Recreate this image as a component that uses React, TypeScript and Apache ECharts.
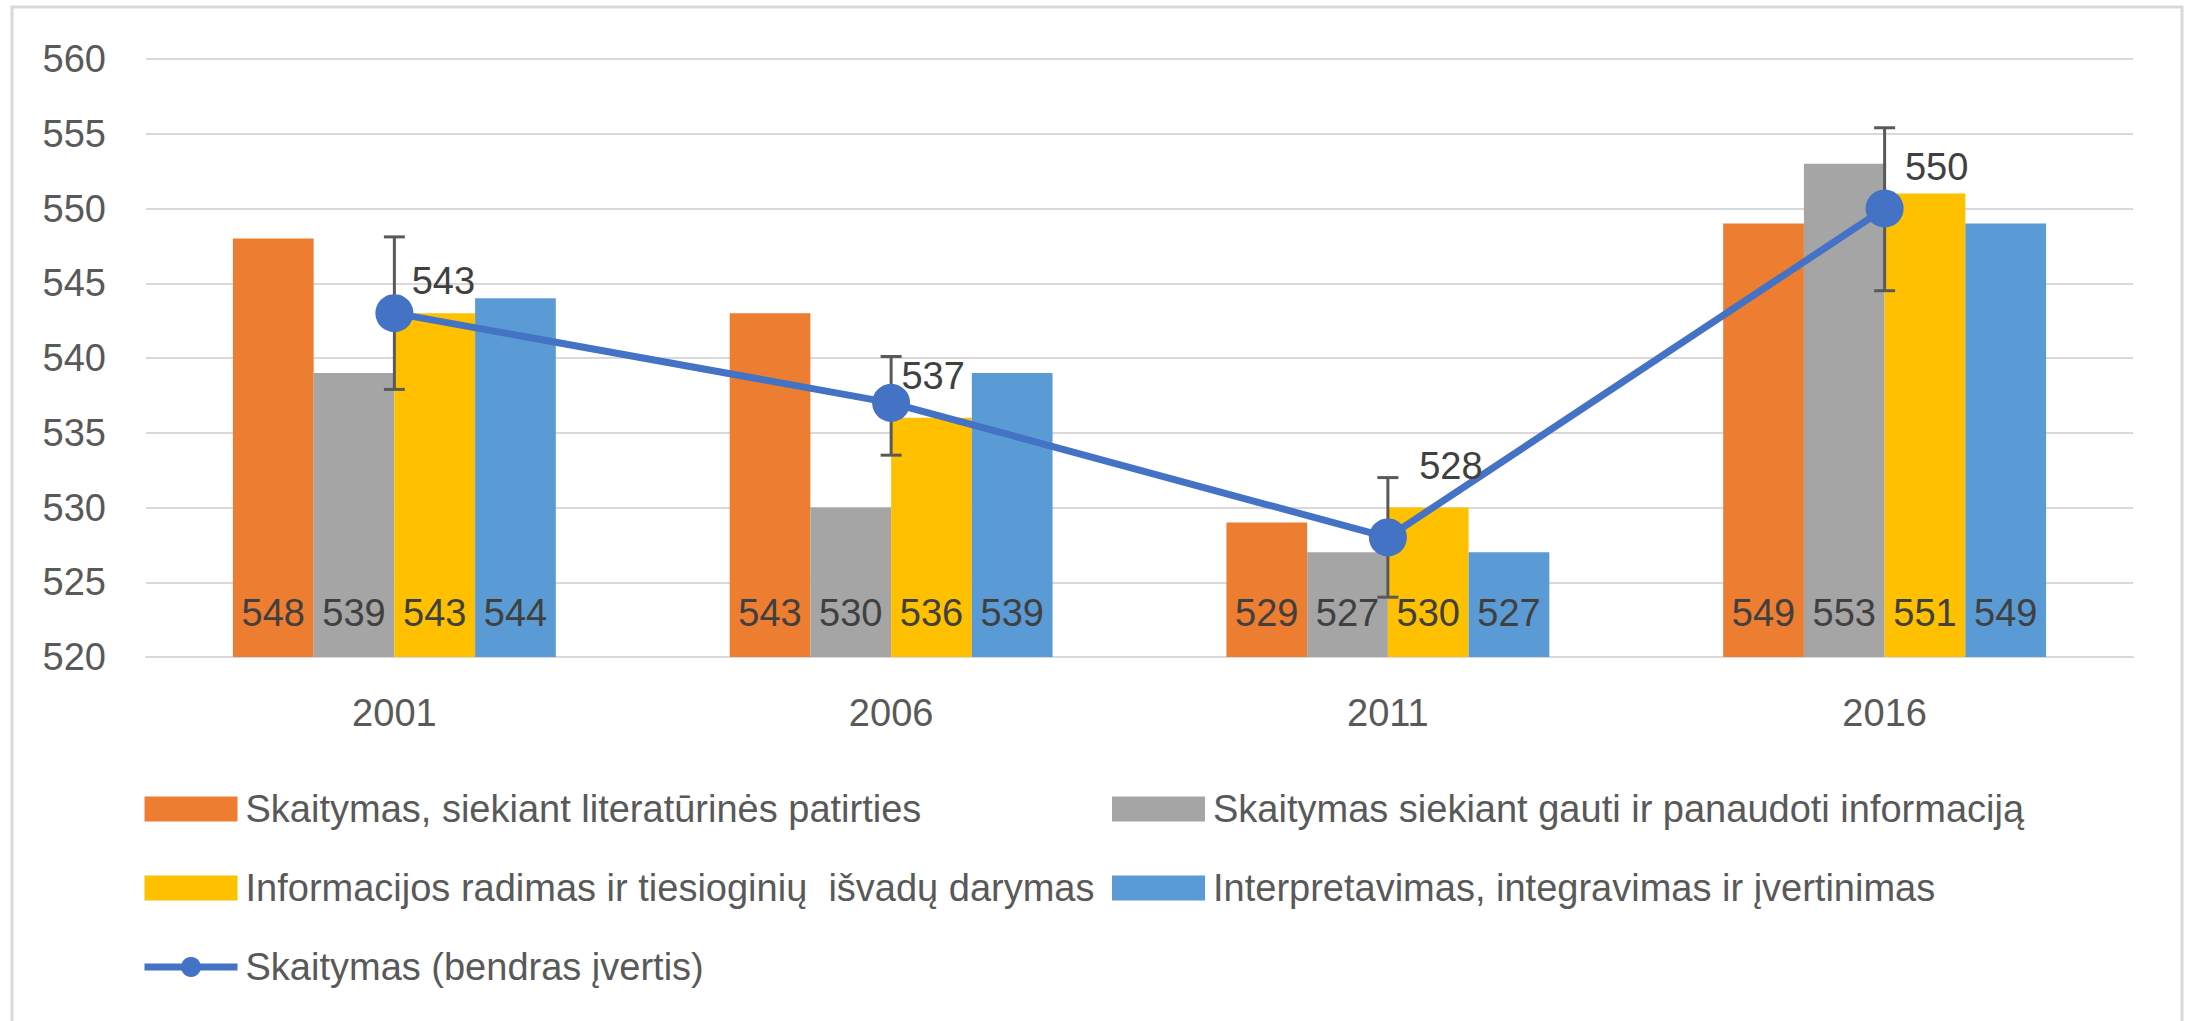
import React, { useEffect, useRef } from "react";
import * as echarts from "echarts";

const categories = ["2001", "2006", "2011", "2016"];
const seriesNames = [
  "Skaitymas, siekiant literatūrinės patirties",
  "Skaitymas siekiant gauti ir panaudoti informaciją",
  "Informacijos radimas ir tiesioginių  išvadų darymas",
  "Interpretavimas, integravimas ir įvertinimas",
  "Skaitymas (bendras įvertis)",
];
const literary = [548, 543, 529, 549];
const information = [539, 530, 527, 553];
const retrieving = [543, 536, 530, 551];
const interpreting = [544, 539, 527, 549];
const overall = [543, 537, 528, 550];
const errLow = [537.9, 533.5, 524.0, 544.5];
const errHigh = [548.1, 540.1, 532.0, 555.4];
const yMin = 520;
const yMax = 560;
const yStep = 5;

// layout-only: label offsets of the overall line labels (px)
const lineLabelOffsets = [
  [49, -32],
  [42, -27],
  [63, -71],
  [52, -42],
];

const FONT = "'Liberation Sans', Arial, sans-serif";
const barColors = ["#ED7D31", "#A5A5A5", "#FFC000", "#5B9BD5"];
const lineColor = "#4472C4";

export default function App() {
  const ref = useRef<HTMLDivElement>(null);
  useEffect(() => {
    if (!ref.current) return;
    const chart = echarts.init(ref.current, null, { renderer: "svg" });
    const barData = [literary, information, retrieving, interpreting];
    const barSeries = barData.map((arr, i) => ({
      name: seriesNames[i],
      type: "bar",
      data: arr,
      barGap: "0%",
      barCategoryGap: "35%",
      z: 2,
      itemStyle: { color: barColors[i] },
      label: {
        show: true,
        position: "insideBottom",
        distance: 25,
        fontSize: 38,
        fontFamily: FONT,
        color: "#404040",
      },
    }));
    const legendText = {
      fontSize: 38,
      color: "#595959",
      lineHeight: 38,
      fontFamily: FONT,
      padding: [0, 0, 0, 3],
    };
    const option: any = {
      animation: false,
      backgroundColor: "#ffffff",
      textStyle: { fontFamily: FONT },
      grid: { left: 146, right: 57, top: 59, height: 598, containLabel: false },
      graphic: [
        {
          type: "rect",
          shape: { x: 12, y: 7, width: 2170, height: 1040 },
          style: { fill: "none", stroke: "#d9d9d9", lineWidth: 3 },
          silent: true,
          z: -10,
        },
      ],
      legend: [
        {
          orient: "vertical",
          left: 136,
          top: 785,
          itemWidth: 93,
          itemHeight: 25,
          itemGap: 41,
          selectedMode: false,
          data: [
            { name: seriesNames[0], icon: "rect" },
            { name: seriesNames[2], icon: "rect" },
            { name: seriesNames[4], lineStyle: { width: 7 } },
          ],
          textStyle: legendText,
        },
        {
          orient: "vertical",
          left: 1107,
          top: 785,
          itemWidth: 93,
          itemHeight: 25,
          itemGap: 41,
          selectedMode: false,
          data: [
            { name: seriesNames[1], icon: "rect" },
            { name: seriesNames[3], icon: "rect" },
          ],
          textStyle: legendText,
        },
      ],
      xAxis: {
        type: "category",
        data: categories,
        axisLine: { show: true, lineStyle: { color: "#d9d9d9", width: 2 } },
        axisTick: { show: false },
        axisLabel: { fontSize: 38, color: "#595959", margin: 37, fontFamily: FONT },
      },
      yAxis: {
        type: "value",
        min: yMin,
        max: yMax,
        interval: yStep,
        axisLine: { show: false },
        axisTick: { show: false },
        axisLabel: { fontSize: 38, color: "#595959", margin: 40, fontFamily: FONT },
        splitLine: { lineStyle: { color: "#d9d9d9", width: 2 } },
      },
      series: [
        ...barSeries,
        {
          name: "errors",
          type: "custom",
          z: 3,
          data: errLow.map((lo, i) => [i, lo, errHigh[i]]),
          encode: { x: 0, y: [1, 2] },
          renderItem: (params: any, api: any) => {
            const idx = api.value(0);
            const lo = api.coord([idx, api.value(1)]);
            const hi = api.coord([idx, api.value(2)]);
            const half = 10.5;
            const style = { stroke: "#595959", lineWidth: 3 };
            return {
              type: "group",
              children: [
                { type: "line", shape: { x1: lo[0], y1: lo[1], x2: hi[0], y2: hi[1] }, style },
                { type: "line", shape: { x1: hi[0] - half, y1: hi[1], x2: hi[0] + half, y2: hi[1] }, style },
                { type: "line", shape: { x1: lo[0] - half, y1: lo[1], x2: lo[0] + half, y2: lo[1] }, style },
              ],
            };
          },
          silent: true,
        },
        {
          name: seriesNames[4],
          type: "line",
          z: 4,
          data: overall.map((v, i) => ({
            value: v,
            label: { offset: lineLabelOffsets[i] },
          })),
          symbol: "circle",
          symbolSize: 38,
          lineStyle: { color: lineColor, width: 7 },
          itemStyle: { color: lineColor },
          label: {
            show: true,
            position: "inside",
            fontSize: 38,
            fontFamily: FONT,
            color: "#404040",
          },
        },
      ],
    };
    chart.setOption(option);
    return () => chart.dispose();
  }, []);
  return (
    <div
      ref={ref}
      style={{ position: "absolute", left: 0, top: 0, width: 2190, height: 1021 }}
    />
  );
}
